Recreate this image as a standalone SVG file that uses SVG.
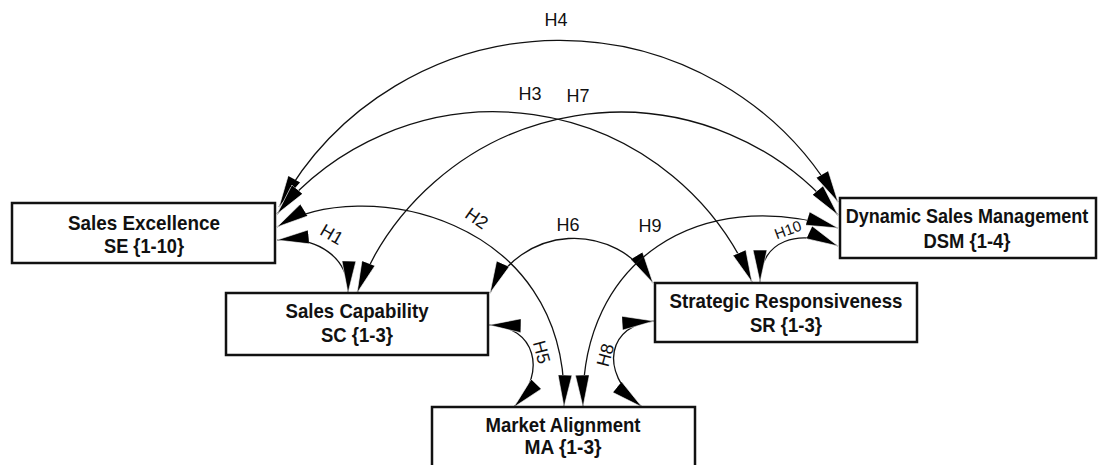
<svg xmlns="http://www.w3.org/2000/svg" width="1099" height="465" viewBox="0 0 1099 465">
<defs>
<style>
.box{fill:#fff;stroke:#111;stroke-width:2.5}
.nt{font-family:"Liberation Sans",Arial,sans-serif;font-weight:bold;font-size:20.5px;fill:#111;text-anchor:middle}
.lbl{font-family:"Liberation Sans",Arial,sans-serif;font-size:18px;fill:#111;text-anchor:middle}
.c{fill:none;stroke:#111;stroke-width:1.3;marker-start:url(#ah);marker-end:url(#ah)}
</style>
<marker id="ah" markerUnits="userSpaceOnUse" viewBox="0 0 32 14" refX="32" refY="7" markerWidth="32" markerHeight="14" orient="auto-start-reverse"><path d="M0,0 L32,7 L0,14 z" fill="#000" stroke="#fff" stroke-width="0.6"/></marker>
</defs>
<rect width="1099" height="465" fill="#fff"/>
<g id="connectors">
<path id="H4" class="c" d="M279,207 A320,320 0 0 1 838,202"/>
<path id="H3" class="c" d="M277,214 A281,281 0 0 1 752,282"/>
<path id="H7" class="c" d="M357,293 A282,282 0 0 1 838,215"/>
<path id="H2" class="c" d="M277,227 C360,175 570,215 564,407"/>
<path id="H1" class="c" d="M277,240 C318,236 349,258 348,293"/>
<path id="H6" class="c" d="M490,293 A92,92 0 0 1 653,283"/>
<path id="H9" class="c" d="M583,407 C580,260 700,185 838,228"/>
<path id="H10" class="c" d="M760,282 C760,240 800,228 838,246"/>
<path id="H5" class="c" d="M489,325 C535,326 548,372 514,407"/>
<path id="H8" class="c" d="M654,321 C610,324 596,370 642,407"/>
<text class="lbl" x="556" y="25.5">H4</text>
<text class="lbl" x="530" y="99.5">H3</text>
<text class="lbl" x="578" y="101.5">H7</text>
<text class="lbl" transform="translate(332,234) rotate(30)" y="6.5">H1</text>
<text class="lbl" transform="translate(477,218) rotate(35)" y="6.5">H2</text>
<text class="lbl" x="568" y="230.5">H6</text>
<text class="lbl" x="650" y="231.5">H9</text>
<text class="lbl" style="font-size:15px" transform="translate(788,230) rotate(-20)" y="5">H10</text>
<text class="lbl" transform="translate(542,352) rotate(75)" y="6.5">H5</text>
<text class="lbl" transform="translate(605,355) rotate(-75)" y="6.5">H8</text>
</g>
<g id="SE"><rect class="box" x="12" y="203" width="263" height="60"/><text class="nt" x="144" y="230" textLength="152" lengthAdjust="spacingAndGlyphs">Sales Excellence</text><text class="nt" x="144" y="253" textLength="80" lengthAdjust="spacingAndGlyphs">SE {1-10}</text></g>
<g id="SC"><rect class="box" x="226" y="293" width="262" height="62"/><text class="nt" x="357" y="318" textLength="143" lengthAdjust="spacingAndGlyphs">Sales Capability</text><text class="nt" x="357" y="342" textLength="72" lengthAdjust="spacingAndGlyphs">SC {1-3}</text></g>
<g id="MA"><rect class="box" x="432" y="407" width="263" height="64"/><text class="nt" x="563" y="432" textLength="155" lengthAdjust="spacingAndGlyphs">Market Alignment</text><text class="nt" x="563" y="454" textLength="77" lengthAdjust="spacingAndGlyphs">MA {1-3}</text></g>
<g id="SR"><rect class="box" x="655" y="283" width="262" height="59"/><text class="nt" x="786" y="308" textLength="233" lengthAdjust="spacingAndGlyphs">Strategic Responsiveness</text><text class="nt" x="786" y="332" textLength="72" lengthAdjust="spacingAndGlyphs">SR {1-3}</text></g>
<g id="DSM"><rect class="box" x="840" y="198" width="256" height="60"/><text class="nt" transform="translate(967,223) scale(0.88,1)">Dynamic Sales Management</text><text class="nt" x="967" y="248" textLength="87" lengthAdjust="spacingAndGlyphs">DSM {1-4}</text></g>
</svg>
